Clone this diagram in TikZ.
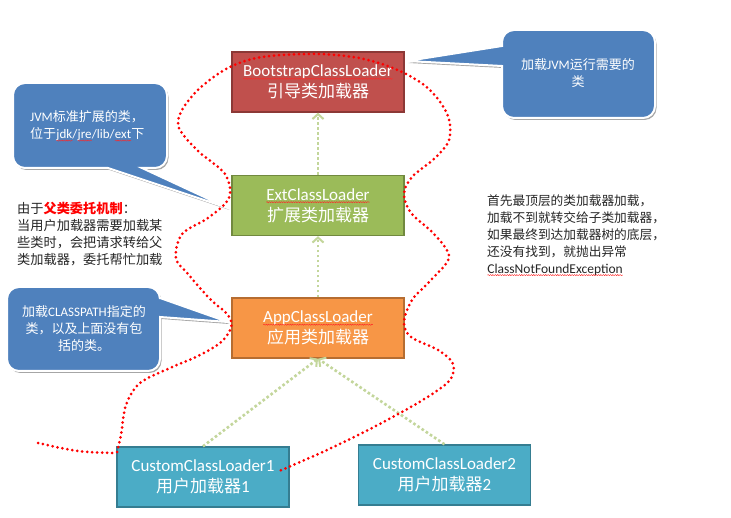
\documentclass[tikz,border=0pt]{standalone}
\usepackage{fontspec}
\setmainfont{Carlito}
\newfontfamily\cjk{Noto Sans CJK SC}
\usetikzlibrary{arrows.meta,decorations.pathmorphing,shadows}
\definecolor{bootred}{HTML}{C0504D}
\definecolor{bootedge}{HTML}{8C3836}
\definecolor{extgreen}{HTML}{9BBB59}
\definecolor{extedge}{HTML}{71893F}
\definecolor{apporange}{HTML}{F79646}
\definecolor{appedge}{HTML}{B66D31}
\definecolor{custeal}{HTML}{4BACC6}
\definecolor{cusedge}{HTML}{357D91}
\definecolor{callblue}{HTML}{4F81BD}
\definecolor{arrgreen}{HTML}{C3D69B}
\definecolor{bodytext}{HTML}{262626}
\newcommand\sq[1]{\tikz[baseline=(sqw.base)]{\node[inner sep=0pt,outer sep=0pt,minimum width=0pt,minimum height=0pt,draw=none,fill=none,align=left](sqw){#1};\draw[red!85, line width=0.4pt, decorate, decoration={snake,amplitude=0.6pt,segment length=2.4pt}] ([yshift=-2pt]sqw.base west) -- ([yshift=-2pt]sqw.base east);}}
\tikzset{
 loader/.style={draw, line width=1.4pt, minimum width=172pt, minimum height=60pt, align=center, text=white, inner sep=0pt, font=\fontsize{17}{21}\selectfont},
 callout/.style={fill=callblue, draw=white, line width=2pt, drop shadow={shadow xshift=1.5pt, shadow yshift=-2pt, opacity=0.35, fill=black}},
 calltext/.style={text=white, font=\fontsize{13}{17}\selectfont, inner sep=0pt},
 parent/.style={draw=arrgreen, line width=2.6pt, dash pattern=on 2.6pt off 2.4pt, -{Straight Barb[length=5pt,width=11pt,line width=2pt]}},
 redloop/.style={draw=red, line width=3pt, line cap=round, dash pattern=on 0pt off 5pt},
}
\begin{document}
\begin{tikzpicture}[x=1pt,y=-1pt]
\useasboundingbox[fill=white] (0,0) rectangle (731,518);

% callouts
\draw[callout] (407,61) -- (502,66) [rounded corners=12pt] -- (502,118) -- (655,118) -- (655,30) -- (502,30) [sharp corners] -- (502,46) -- cycle;
\draw[callout] (228,208) -- (142,168) [rounded corners=12pt] -- (167,168) -- (167,83) -- (13,83) -- (13,168) [sharp corners] -- (108,168) -- cycle;
\draw[callout] (228,322) -- (160,317) [rounded corners=12pt] -- (160,371) -- (7,371) -- (7,287) -- (160,287) [sharp corners] -- (160,298) -- cycle;

\node[calltext, align=center] (cal1) at (578,73) {{\cjk 加载}JVM{\cjk 运行需要的}\\{\cjk 类}};
\node[calltext, align=left, anchor=west] (cal2) at (30,126) {JVM{\cjk 标准扩展的类，}\\{\cjk 位于}\sq{jdk}/\sq{jre}/lib/\sq{ext}{\cjk 下}};
\node[calltext, align=center] (cal3) at (84,329) {{\cjk 加载}CLASSPATH{\cjk 指定的}\\{\cjk 类，以及上面没有包}\\{\cjk 括的类。}};

% class loaders
\node[loader, fill=bootred, draw=bootedge] (boot) at (318,82) {\sq{BootstrapClassLoader}\\{\cjk 引导类加载器}};
\node[loader, fill=extgreen, draw=extedge] (ext) at (318,205.5) {\sq{ExtClassLoader}\\{\cjk 扩展类加载器}};
\node[loader, fill=apporange, draw=appedge] (app) at (318,328) {\sq{AppClassLoader}\\{\cjk 应用类加载器}};
\node[loader, fill=custeal, draw=cusedge] (c1) at (203,477) {CustomClassLoader1\\{\cjk 用户加载器}1};
\node[loader, fill=custeal, draw=cusedge] (c2) at (444.5,475) {CustomClassLoader2\\{\cjk 用户加载器}2};

% parent delegation arrows
\draw[parent] (ext.north) -- (boot.south);
\draw[parent] (app.north) -- (ext.south);
\draw[parent] (c1.north) -- (app.south);
\draw[parent] (c2.north) -- (app.south);

% explanatory texts
\node[anchor=north west, align=left, inner sep=0pt, text=bodytext, font=\cjk\fontsize{13.2}{17}\selectfont] (lefttext) at (17,202)
 {由于{\color{red}\bfseries 父类委托机制}：\\当用户加载器需要加载某\\些类时，会把请求转给父\\类加载器，委托帮忙加载};
\node[anchor=north west, align=left, inner sep=0pt, text=bodytext, font=\cjk\fontsize{12.7}{16.8}\selectfont] (righttext) at (487,195)
 {首先最顶层的类加载器加载，\\加载不到就转交给子类加载器，\\如果最终到达加载器树的底层，\\还没有找到，就抛出异常\\{\rmfamily\fontsize{13.5}{16.8}\selectfont\sq{ClassNotFoundException}}};

% red dotted search boundary
\draw[redloop] plot[smooth, tension=0.6] coordinates {(38,443) (78,451) (116,453)};
\draw[redloop] plot[smooth, tension=0.55] coordinates {(117,452) (121,435) (126,405) (140,383) (170,368) (198,356) (220,343) (231,328) (228,315) (210,299) (188,274) (176,258) (182,234) (208,218) (229,198) (225,174) (198,151) (179,128) (182,110) (200,88) (228,68) (262,57) (318,54) (364,59) (402,72) (430,90) (448,116) (449,140) (435,158) (412,177) (404,194) (411,213) (434,234) (449,257) (431,280) (412,300) (404,322) (411,337) (438,350) (453,364) (449,381) (421,401) (374,427) (327,450) (277,472)};
\end{tikzpicture}
\end{document}
